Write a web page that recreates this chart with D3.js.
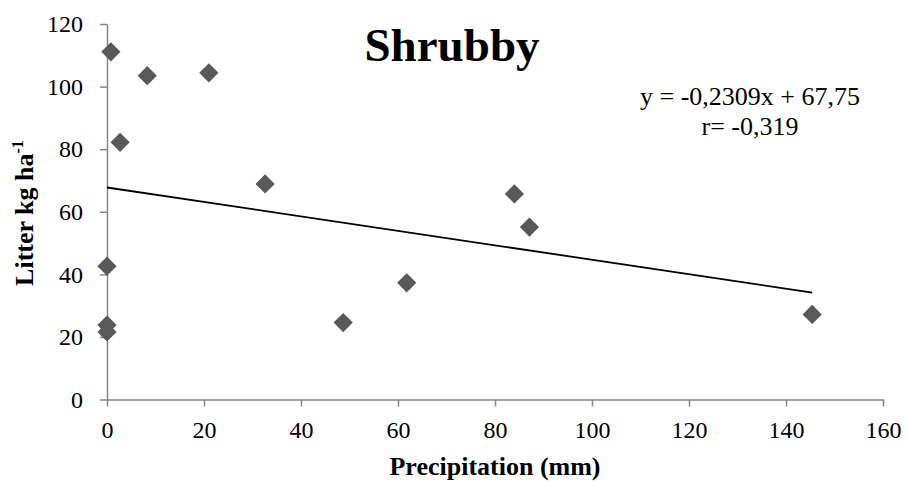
<!DOCTYPE html>
<html lang="en">
<head>
    <meta charset="UTF-8">
    <title>Shrubby</title>
    <script src="https://d3js.org/d3.v7.min.js"></script>
</head>
<style>
    body {
      margin: 0;
      background: #fff;
    }
    svg text {
      font-family: "Liberation Serif", "Times New Roman", serif;
      fill: #000;
    }
</style>
<body>
    <div id="chart"></div>

    <script>
        // Precipitation (mm) and litter (kg/ha)
        const precipitation = [0.8, 8.3, 21.0, 2.7, 32.6, 0, 0, 0, 48.7, 61.8, 84.0, 87.1, 145.4];
        const litter = [111.1, 103.5, 104.4, 82.2, 68.9, 42.6, 23.8, 21.6, 24.6, 37.3, 65.7, 55.1, 27.2];
        const xTicks = [0, 20, 40, 60, 80, 100, 120, 140, 160];
        const yTicks = [0, 20, 40, 60, 80, 100, 120];
        const slope = -0.2309, intercept = 67.75;

        const points = precipitation.map((p, i) => ({ x: p, y: litter[i] }));

        const W = 907, H = 481;
        const m = {left: 107, right: 883, top: 24, bottom: 399.5};

        const x = d3.scaleLinear().domain([0, 160]).range([m.left, m.right]);
        const y = d3.scaleLinear().domain([0, 120]).range([m.bottom, m.top]);

        const svg = d3.select("#chart").append("svg")
            .attr("width", W)
            .attr("height", H);

        // axes
        const xAxis = svg.append("g")
            .attr("transform", "translate(0," + m.bottom + ")")
            .call(d3.axisBottom(x).tickValues(xTicks).tickSize(7).tickPadding(14).tickSizeOuter(0));
        const yAxis = svg.append("g")
            .attr("transform", "translate(" + m.left + ",0)")
            .call(d3.axisLeft(y).tickValues(yTicks).tickSize(7).tickPadding(17).tickSizeOuter(0));

        [xAxis, yAxis].forEach(g => {
            g.selectAll("path, line").attr("stroke", "#868686").attr("stroke-width", 1.5);
            g.selectAll("text")
                .style("font-family", "'Liberation Serif', serif")
                .style("font-size", "24px")
                .attr("fill", "#000");
        });

        // trend line
        const xMax = d3.max(precipitation);
        svg.append("line")
            .attr("x1", x(0)).attr("y1", y(intercept))
            .attr("x2", x(xMax)).attr("y2", y(slope * xMax + intercept))
            .attr("stroke", "#000")
            .attr("stroke-width", 1.8);

        // markers
        svg.selectAll(".pt")
            .data(points)
            .enter().append("path")
            .attr("class", "pt")
            .attr("d", d3.symbol(d3.symbolSquare, 185))
            .attr("transform", d => "translate(" + x(d.x) + "," + y(d.y) + ") rotate(45)")
            .attr("fill", "#595959");

        // title
        svg.append("text")
            .attr("x", 452)
            .attr("y", 61)
            .attr("text-anchor", "middle")
            .style("font-size", "47px")
            .style("font-weight", "bold")
            .text("Shrubby");

        // equation
        svg.append("text")
            .attr("x", 750)
            .attr("y", 105)
            .attr("text-anchor", "middle")
            .style("font-size", "26px")
            .text("y = -0,2309x + 67,75");
        svg.append("text")
            .attr("x", 750)
            .attr("y", 135)
            .attr("text-anchor", "middle")
            .style("font-size", "26px")
            .text("r= -0,319");

        // axis titles
        svg.append("text")
            .attr("x", 495)
            .attr("y", 475)
            .attr("text-anchor", "middle")
            .style("font-size", "26px")
            .style("font-weight", "bold")
            .text("Precipitation (mm)");

        const yt = svg.append("text")
            .attr("transform", "translate(33,213) rotate(-90)")
            .attr("text-anchor", "middle")
            .style("font-size", "26px")
            .style("font-weight", "bold");
        yt.append("tspan").text("Litter kg ha");
        yt.append("tspan")
            .attr("dy", "-0.6em")
            .style("font-size", "16px")
            .text("-1");
    </script>
</body>
</html>
